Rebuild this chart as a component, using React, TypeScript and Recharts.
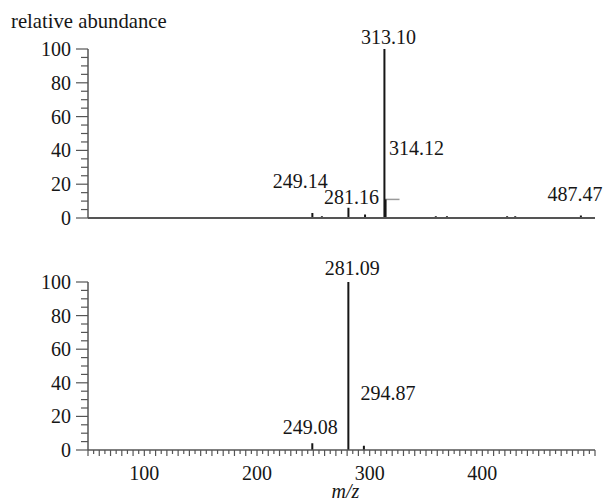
import React from "react";
import {
  ComposedChart,
  Line,
  Scatter,
  XAxis,
  YAxis,
  ReferenceLine,
} from "recharts";

// top spectrum (m/z, relative abundance %)
const topMz = [249.14, 257.6, 281.16, 295.9, 313.1, 314.12, 358.7, 368.6, 422.0, 429.2, 487.47];
const topAbundance = [3, 1, 6, 2, 100, 11, 1, 1, 1, 1, 1.5];
const topLabels = ["249.14", "281.16", "313.10", "314.12", "487.47"];

// bottom spectrum
const bottomMz = [249.08, 281.09, 294.87];
const bottomAbundance = [4, 100, 2.5];
const bottomLabels = ["281.09", "249.08", "294.87"];

// gray marker beside the base peak of the top spectrum
const markerFrom = 313.1;
const markerTo = 326.5;
const markerLevel = 11;

const yTicks = [0, 5, 10, 15, 20, 25, 30, 35, 40, 45, 50, 55, 60, 65, 70, 75, 80, 85, 90, 95, 100];
const yLabelled = [0, 20, 40, 60, 80, 100];
const xTicks = Array.from({ length: 91 }, (_, i) => 50 + i * 5);
const xLabelled = [100, 200, 300, 400];

// label placement relative to the peak top (px)
const labelOffset: Record<string, { dx: number; dy: number }> = {
  "249.14": { dx: -12, dy: -32 },
  "281.16": { dx: 3, dy: -11 },
  "313.10": { dx: 4, dy: -12 },
  "314.12": { dx: 31, dy: -51 },
  "487.47": { dx: -6, dy: -21 },
  "281.09": { dx: 4, dy: -14 },
  "249.08": { dx: -2, dy: -16 },
  "294.87": { dx: 24, dy: -53 },
};

const FONT = "'Liberation Serif', 'Times New Roman', serif";
const INK = "#161616";
const AXIS = "#555";

const sticks = (mz: number[], ab: number[]) =>
  mz.flatMap((m, i) => [
    { mz: m, ab: 0 },
    { mz: m, ab: ab[i] },
    { mz: m, ab: null },
  ]);

const anchors = (labels: string[], mz: number[], ab: number[]) =>
  labels.map((l) => {
    const i = mz.findIndex((m) => m.toFixed(2) === l);
    return { mz: mz[i], ab: ab[i], label: l };
  });

const YTick = (props: any) => {
  const { x, y, payload } = props;
  const major = yLabelled.includes(payload.value);
  return (
    <g>
      <line x1={x - (major ? 12 : 7)} x2={x} y1={y} y2={y} stroke={AXIS} strokeWidth={1.2} />
      {major && (
        <text x={x - 17} y={y} textAnchor="end" dominantBaseline="central" fontSize={20} fontFamily={FONT} fill={INK}>
          {payload.value}
        </text>
      )}
    </g>
  );
};

const XTick = (props: any) => {
  const { x, y, payload } = props;
  const v = payload.value;
  const len = v % 10 === 0 ? 6 : 4;
  return (
    <g>
      <line x1={x} x2={x} y1={y} y2={y + len} stroke={AXIS} strokeWidth={1.2} />
      {xLabelled.includes(v) && (
        <text x={x} y={y + 23} textAnchor="middle" dominantBaseline="central" fontSize={20} fontFamily={FONT} fill={INK}>
          {v}
        </text>
      )}
    </g>
  );
};

const PeakLabel = (props: any) => {
  const { cx, cy, payload } = props;
  const o = labelOffset[payload.label] || { dx: 0, dy: -12 };
  return (
    <text x={cx + o.dx} y={cy + o.dy} textAnchor="middle" dominantBaseline="central" fontSize={20} fontFamily={FONT} fill={INK}>
      {payload.label}
    </text>
  );
};

const MzLabel = (props: any) => {
  const { viewBox } = props;
  return (
    <text
      x={viewBox.x + viewBox.width / 2 + 4}
      y={viewBox.y + 41}
      textAnchor="middle"
      dominantBaseline="central"
      fontSize={20}
      fontStyle="italic"
      fontFamily={FONT}
      fill={INK}
    >
      m/z
    </text>
  );
};

const App = () => {
  return (
    <div style={{ position: "absolute", left: 0, top: 0, width: 606, height: 504, background: "#fff", overflow: "hidden" }}>
      <div
        style={{
          position: "absolute",
          left: 11,
          top: 10,
          fontFamily: FONT,
          fontSize: 20.7,
          color: INK,
          whiteSpace: "nowrap",
        }}
      >
        relative abundance
      </div>

      <div style={{ position: "absolute", left: 0, top: 0 }}>
        <ComposedChart width={606} height={240} margin={{ top: 49, right: 11, bottom: 20, left: 0 }} style={{ overflow: "visible" }}>
          <XAxis
            dataKey="mz"
            type="number"
            domain={[50, 500]}
            height={2}
            tick={false}
            tickLine={false}
            axisLine={{ stroke: AXIS, strokeWidth: 2 }}
          />
          <YAxis
            type="number"
            domain={[0, 100]}
            ticks={yTicks}
            interval={0}
            width={88}
            tickSize={0}
            tickMargin={0}
            tickLine={false}
            tick={<YTick />}
            axisLine={{ stroke: AXIS, strokeWidth: 1.5 }}
          />
          <ReferenceLine
            segment={[
              { x: markerFrom, y: markerLevel },
              { x: markerTo, y: markerLevel },
            ]}
            stroke="#9a9a9a"
            strokeWidth={1.5}
            ifOverflow="visible"
          />
          <Line
            data={sticks(topMz, topAbundance)}
            dataKey="ab"
            type="linear"
            stroke={INK}
            strokeWidth={2}
            dot={false}
            activeDot={false}
            connectNulls={false}
            isAnimationActive={false}
          />
          <Scatter
            data={anchors(topLabels, topMz, topAbundance)}
            dataKey="ab"
            shape={<PeakLabel />}
            isAnimationActive={false}
          />
        </ComposedChart>
      </div>

      <div style={{ position: "absolute", left: 0, top: 240 }}>
        <ComposedChart width={606} height={264} margin={{ top: 42, right: 11, bottom: 0, left: 0 }}>
          <XAxis
            dataKey="mz"
            type="number"
            domain={[50, 500]}
            ticks={xTicks}
            interval={0}
            height={54}
            tickSize={0}
            tickMargin={0}
            tickLine={false}
            tick={<XTick />}
            axisLine={{ stroke: AXIS, strokeWidth: 1.5 }}
            label={<MzLabel />}
          />
          <YAxis
            type="number"
            domain={[0, 100]}
            ticks={yTicks}
            interval={0}
            width={88}
            tickSize={0}
            tickMargin={0}
            tickLine={false}
            tick={<YTick />}
            axisLine={{ stroke: AXIS, strokeWidth: 1.5 }}
          />
          <Line
            data={sticks(bottomMz, bottomAbundance)}
            dataKey="ab"
            type="linear"
            stroke={INK}
            strokeWidth={2}
            dot={false}
            activeDot={false}
            connectNulls={false}
            isAnimationActive={false}
          />
          <Scatter
            data={anchors(bottomLabels, bottomMz, bottomAbundance)}
            dataKey="ab"
            shape={<PeakLabel />}
            isAnimationActive={false}
          />
        </ComposedChart>
      </div>
    </div>
  );
};

export default App;
